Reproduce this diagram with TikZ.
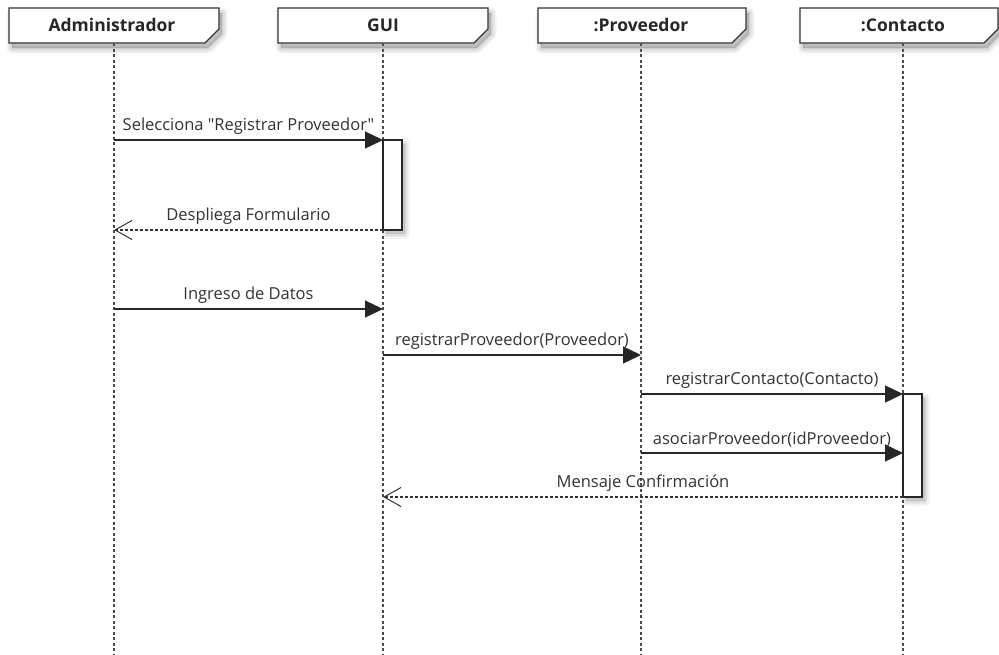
\documentclass[tikz,border=0pt]{standalone}
\usepackage{fontspec}
\setmainfont{Open Sans}
\newfontfamily\labelfont{Open Sans}
\newfontfamily\titlefont{Open Sans Bold}
\usetikzlibrary{arrows.meta}
\begin{document}
\begin{tikzpicture}[x=1pt,y=-1pt,
  hdrtext/.style={font=\titlefont\fontsize{17.5}{20}\selectfont, text=black!85, inner sep=0pt},
  hdrbox/.style={draw=black!80, fill=white, line width=1.1pt, line join=miter},
  lifeline/.style={draw=black!70, line width=1.3pt, dash pattern=on 3pt off 2.5pt},
  call/.style={draw=black!85, line width=1.3pt, -{Triangle[length=18pt,width=17pt]}},
  reply/.style={draw=black!80, line width=1.3pt, dash pattern=on 3pt off 2pt,
    -{Straight Barb[length=17pt,width=19pt,line width=1pt]}},
  msg/.style={font=\labelfont\fontsize{16.5}{19}\selectfont, text=black!80, inner sep=1pt, anchor=south},
  act/.style={draw=black!85, fill=white, line width=1.2pt},
  shadowlayer/.style={fill=black, draw=black, opacity=0.045, line join=round}
]
\useasboundingbox (0,0) rectangle (999,654);
\fill[white] (0,0) rectangle (999,654);

% soft shadow + header shape with a cut lower-right corner
\newcommand{\hdrshape}[2]{(#1,8) -- (#2,8) -- (#2,29) -- ({#2-14},43) -- (#1,43) -- cycle}
\newcommand{\hdrshadow}[2]{%
  \foreach \w in {11,8,5,2}
    \filldraw[shadowlayer, line width=\w pt, shift={(3,5)}] \hdrshape{#1}{#2};}

\hdrshadow{9}{219}
\hdrshadow{278}{488}
\hdrshadow{538}{746}
\hdrshadow{800}{998}

\filldraw[hdrbox] \hdrshape{9}{219};
\filldraw[hdrbox] \hdrshape{278}{488};
\filldraw[hdrbox] \hdrshape{538}{746};
\filldraw[hdrbox] \hdrshape{800}{998};

\node[hdrtext] (hA) at (112,25) {Administrador};
\node[hdrtext] (hG) at (383,25) {GUI};
\node[hdrtext] (hP) at (641,25) {:Proveedor};
\node[hdrtext] (hC) at (903,25) {:Contacto};

% lifelines
\coordinate (tA) at (114,43);  \coordinate (bA) at (114,654);
\coordinate (tG) at (383,43);  \coordinate (bG) at (383,654);
\coordinate (tP) at (641,43);  \coordinate (bP) at (641,654);
\coordinate (tC) at (903,43);  \coordinate (bC) at (903,654);
\draw[lifeline] (tA) -- (bA);
\draw[lifeline] (tG) -- (bG);
\draw[lifeline] (tP) -- (bP);
\draw[lifeline] (tC) -- (bC);

% activation bars
\foreach \w in {9,6,3}
  \filldraw[shadowlayer, line width=\w pt, shift={(3,4)}] (383,140) rectangle (402,230);
\foreach \w in {9,6,3}
  \filldraw[shadowlayer, line width=\w pt, shift={(3,4)}] (903,394) rectangle (922,497);
\filldraw[act] (383,140) rectangle (402,230);
\filldraw[act] (903,394) rectangle (922,497);

% message anchor points on the lifelines
\coordinate (a1) at (114,140); \coordinate (g1) at (383,140);
\coordinate (g2) at (383,230); \coordinate (a2) at (114,230);
\coordinate (a3) at (114,309); \coordinate (g3) at (383,309);
\coordinate (g4) at (383,355); \coordinate (p4) at (641,355);
\coordinate (p5) at (641,394); \coordinate (c5) at (903,394);
\coordinate (p6) at (641,453); \coordinate (c6) at (903,453);
\coordinate (c7) at (903,497); \coordinate (g7) at (383,497);

% messages
\draw[call]  (a1) -- node[msg, above=4pt] {Selecciona "Registrar Proveedor"} (g1);
\draw[reply] (g2) -- node[msg, above=4pt] {Despliega Formulario} (a2);
\draw[call]  (a3) -- node[msg, above=4pt] {Ingreso de Datos} (g3);
\draw[call]  (g4) -- node[msg, above=4pt] {registrarProveedor(Proveedor)} (p4);
\draw[call]  (p5) -- node[msg, above=4pt] {registrarContacto(Contacto)} (c5);
\draw[call]  (p6) -- node[msg, above=4pt] {asociarProveedor(idProveedor)} (c6);
\draw[reply] (c7) -- node[msg, above=4pt] {Mensaje Confirmación} (g7);
\end{tikzpicture}
\end{document}
